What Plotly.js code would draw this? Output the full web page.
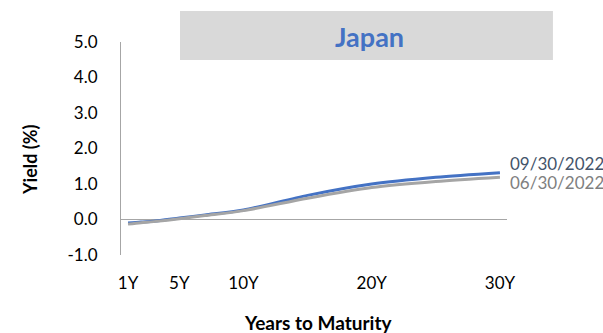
<!DOCTYPE html>
<html>
<head>
<meta charset="utf-8">
<script src="https://cdn.plot.ly/plotly-3.0.1.min.js"></script>
<style>html,body{margin:0;padding:0;background:#fff;overflow:hidden;}#chart{width:603px;height:333px;}</style>
</head>
<body>
<div id="chart"></div>
<script>
// Maturities in years
const maturities = [1, 2, 3, 5, 7, 10, 15, 20, 25, 30];
// Yields (%)
const yieldsSep2022 = [-0.10, -0.07, -0.05, 0.04, 0.13, 0.27, 0.68, 1.00, 1.19, 1.32];
const yieldsJun2022 = [-0.13, -0.09, -0.06, 0.02, 0.11, 0.25, 0.60, 0.90, 1.07, 1.19];
const seriesNames = ['09/30/2022', '06/30/2022'];
const xTickVals = [1, 5, 10, 20, 30];
const xTickLabels = ['1Y', '5Y', '10Y', '20Y', '30Y'];
const yTickVals = [-1, 0, 1, 2, 3, 4, 5];
const yTickLabels = ['-1.0', '0.0', '1.0', '2.0', '3.0', '4.0', '5.0'];
const chartTitle = 'Japan';

const FONT = 'Lato, "Open Sans", sans-serif';

const traces = [
  {x: maturities, y: yieldsSep2022, name: seriesNames[0], mode: 'lines',
   line: {color: '#4472c4', width: 3, shape: 'spline', smoothing: 0.8}},
  {x: maturities, y: yieldsJun2022, name: seriesNames[1], mode: 'lines',
   line: {color: '#a5a5a5', width: 3, shape: 'spline', smoothing: 0.8}}
];

const lastIdx = maturities.length - 1;

const layout = {
  width: 603, height: 333,
  margin: {l: 121, r: 96, t: 42, b: 78},
  paper_bgcolor: '#ffffff', plot_bgcolor: '#ffffff',
  showlegend: false,
  font: {family: FONT, size: 17, color: '#000000'},
  xaxis: {
    range: [0.45, 30.55], showgrid: false, zeroline: false, showline: false,
    tickvals: xTickVals, ticktext: xTickLabels, ticks: '',
    ticklabelstandoff: 16,
    tickfont: {family: FONT, size: 17, color: '#000000'}
  },
  yaxis: {
    range: [-1, 5], tickvals: yTickVals, ticktext: yTickLabels,
    showgrid: false, showline: true, linecolor: '#a6a6a6', linewidth: 1,
    zeroline: true, zerolinecolor: '#a6a6a6', zerolinewidth: 1.5,
    ticks: '', ticklabelstandoff: 19,
    tickfont: {family: FONT, size: 17, color: '#000000'}
  },
  shapes: [
    {type: 'rect', xref: 'paper', yref: 'paper', x0: 0.1528, x1: 1.119, y0: 0.9155, y1: 1.1455,
     fillcolor: '#d9d9d9', line: {width: 0}, layer: 'below'}
  ],
  annotations: [
    {text: '<b>' + chartTitle + '</b>', xref: 'paper', yref: 'paper', x: 0.6425, y: 1.0235,
     xanchor: 'center', yanchor: 'middle', showarrow: false,
     font: {family: FONT, size: 27, color: '#4472c4'}},
    {text: '<b>Yield (%)</b>', xref: 'paper', yref: 'paper', x: -0.236, y: 0.45,
     xanchor: 'center', yanchor: 'middle', textangle: -90, showarrow: false,
     font: {family: FONT, size: 18, color: '#000000'}},
    {text: '<b>Years to Maturity</b>', xref: 'paper', yref: 'paper', x: 0.5104, y: -0.315,
     xanchor: 'center', yanchor: 'middle', showarrow: false,
     font: {family: FONT, size: 19, color: '#000000'}},
    {text: seriesNames[0], xref: 'x', yref: 'y', x: maturities[lastIdx], y: yieldsSep2022[lastIdx],
     xanchor: 'left', yanchor: 'middle', xshift: 8, yshift: 9, showarrow: false,
     font: {family: FONT, size: 17, color: '#44546a'}},
    {text: seriesNames[1], xref: 'x', yref: 'y', x: maturities[lastIdx], y: yieldsJun2022[lastIdx],
     xanchor: 'left', yanchor: 'middle', xshift: 8, yshift: -5, showarrow: false,
     font: {family: FONT, size: 17, color: '#808080'}}
  ]
};

Plotly.newPlot('chart', traces, layout, {staticPlot: true, displayModeBar: false});
</script>
</body>
</html>
